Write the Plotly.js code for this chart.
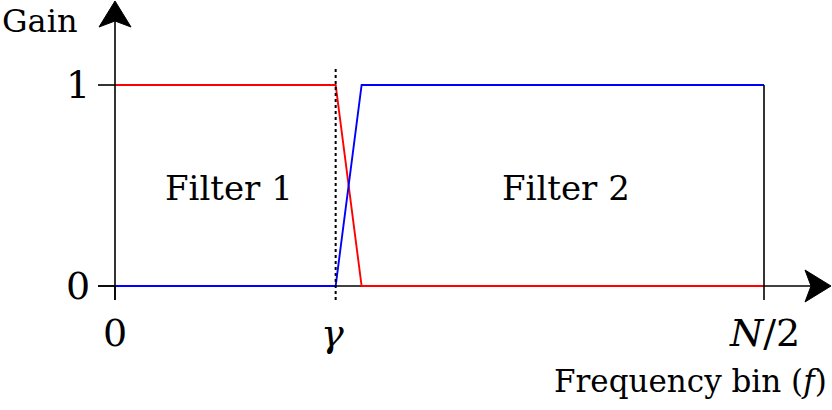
<!DOCTYPE html>
<html>
<head>
<meta charset="utf-8">
<script src="https://cdn.plot.ly/plotly-3.0.1.min.js"></script>
<style>html,body{margin:0;padding:0;background:#fff;}#chart{width:832px;height:410px;}</style>
</head>
<body>
<div id="chart"></div>
<script>
// ---- data ----
const freq = [0, 34, 38, 100];          // frequency bin (N/2 = 100)
const filter1Gain = [1, 1, 0, 0];
const filter2Gain = [0, 0, 1, 1];
const gammaBin = 34;
const halfN = 100;
const xTickVals = [0, 34, 100];
const xTickText = ['0', '<i>γ</i>', '<i>N</i>/2'];
const yTickVals = [0, 1];
const yTickText = ['0', '1'];
const regionLabels = ['Filter 1', 'Filter 2'];
const regionX = [17.5, 69.5];

// ---- layout helpers (pixel -> data for the fixed 832x410 frame) ----
const X0 = 115, XSCALE = 6.49;   // px of x=0, px per unit
const Y0 = 286, YSCALE = 201;    // px of y=0, px per unit
const px = p => (p - X0) / XSCALE;
const py = p => (Y0 - p) / YSCALE;
const dx = d => d / XSCALE;
const dy = d => d / YSCALE;

const serif = 'DejaVu Serif';
const shapes = [];
const annotations = [];
const blk = {color: '#000', width: 1.6};

// y axis line + arrow
shapes.push({type: 'line', xref: 'x', yref: 'y', x0: 0, x1: 0, y0: -dy(14), y1: py(20), line: blk, layer: 'above'});
shapes.push({type: 'path', xref: 'x', yref: 'y', layer: 'above',
  path: `M 0 ${py(1)} L ${dx(16)} ${py(27)} L 0 ${py(21)} L ${-dx(16)} ${py(27)} Z`,
  fillcolor: '#000', line: {color: '#000', width: 1}});
// x axis line + arrow
shapes.push({type: 'line', xref: 'x', yref: 'y', x0: -dx(17), x1: px(812), y0: 0, y1: 0, line: blk, layer: 'below'});
shapes.push({type: 'path', xref: 'x', yref: 'y', layer: 'above',
  path: `M ${px(831)} 0 L ${px(805)} ${dy(16)} L ${px(811)} 0 L ${px(805)} ${-dy(16)} Z`,
  fillcolor: '#000', line: {color: '#000', width: 1}});
// y ticks
yTickVals.forEach((v, i) => {
  shapes.push({type: 'line', xref: 'x', yref: 'y', x0: -dx(17), x1: 0, y0: v, y1: v, line: blk, layer: 'below'});
  annotations.push({xref: 'x', yref: 'y', x: -dx(23), y: v, text: yTickText[i], showarrow: false,
    xanchor: 'right', yanchor: 'middle', font: {family: serif, size: 38, color: '#000'}});
});
// x ticks
xTickVals.forEach((v, i) => {
  if (v === gammaBin) return;
  shapes.push({type: 'line', xref: 'x', yref: 'y', x0: v, x1: v, y0: 0, y1: -dy(14), line: blk, layer: 'above'});
});
xTickVals.forEach((v, i) => {
  annotations.push({xref: 'x', yref: 'y', x: v + (v === gammaBin ? -dx(3) : 0), y: py(333), text: xTickText[i], showarrow: false,
    xanchor: 'center', yanchor: 'middle', font: {family: serif, size: 38, color: '#000'}});
});
// N/2 right edge (black vertical)
shapes.push({type: 'line', xref: 'x', yref: 'y', x0: halfN, x1: halfN, y0: 0, y1: 1, line: blk, layer: 'above'});
// dotted line at gamma
shapes.push({type: 'line', xref: 'x', yref: 'y', x0: gammaBin, x1: gammaBin, y0: py(300), y1: py(68),
  line: {color: '#000', width: 2, dash: 'dot'}, layer: 'above'});

// region labels
regionLabels.forEach((t, i) => {
  annotations.push({xref: 'x', yref: 'y', x: regionX[i], y: py(188), text: t, showarrow: false,
    xanchor: 'center', yanchor: 'middle', font: {family: serif, size: 34, color: '#000'}});
});
// axis titles
annotations.push({xref: 'x', yref: 'y', x: px(0), y: py(21), text: 'Gain', showarrow: false,
  xanchor: 'left', yanchor: 'middle', font: {family: serif, size: 32, color: '#000'}});
annotations.push({xref: 'x', yref: 'y', x: px(829), y: py(381), text: 'Frequency bin (<i>f</i>)', showarrow: false,
  xanchor: 'right', yanchor: 'middle', font: {family: serif, size: 31, color: '#000'}});

const traces = [
  {x: freq, y: filter1Gain, type: 'scatter', mode: 'lines', name: 'Filter 1',
   line: {color: '#ff0000', width: 1.9}, hoverinfo: 'skip', cliponaxis: false},
  {x: freq, y: filter2Gain, type: 'scatter', mode: 'lines', name: 'Filter 2',
   line: {color: '#0000ff', width: 1.9}, hoverinfo: 'skip', cliponaxis: false}
];

const layout = {
  width: 832, height: 410,
  margin: {l: 0, r: 0, t: 0, b: 0, pad: 0},
  paper_bgcolor: '#fff', plot_bgcolor: '#fff',
  showlegend: false,
  xaxis: {range: [px(0), px(832)], visible: false, showgrid: false, zeroline: false, fixedrange: true},
  yaxis: {range: [py(410), py(0)], visible: false, showgrid: false, zeroline: false, fixedrange: true},
  shapes: shapes,
  annotations: annotations
};

Plotly.newPlot('chart', traces, layout, {staticPlot: true, displayModeBar: false});
</script>
</body>
</html>
